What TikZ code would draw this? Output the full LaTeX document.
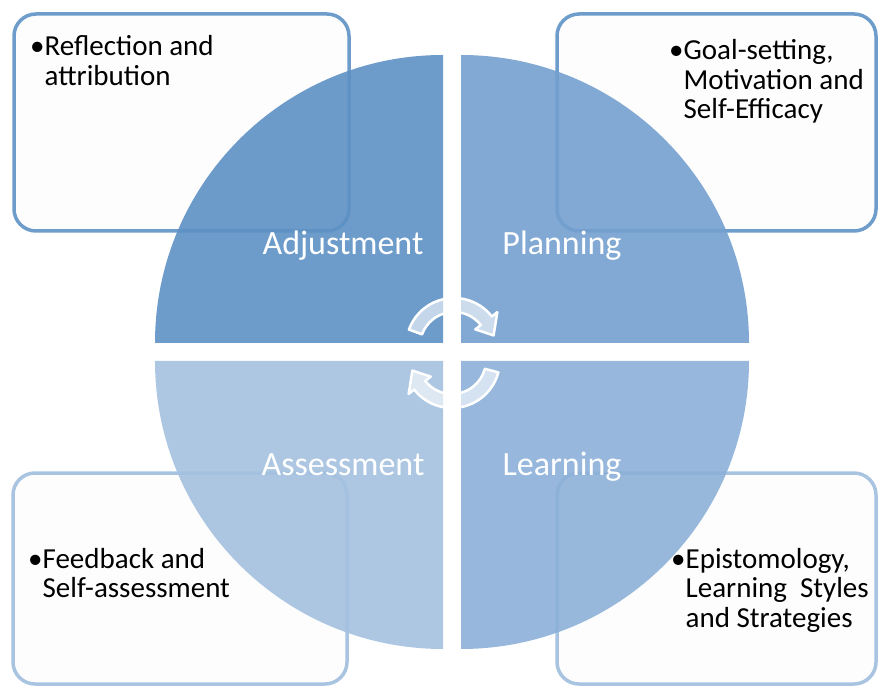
\documentclass[tikz,border=0pt]{standalone}
\usepackage{fontspec}
\setmainfont{Carlito}
\usetikzlibrary{calc}

\definecolor{adjfill}{HTML}{5D91C5}
\definecolor{planfill}{HTML}{74A0CF}
\definecolor{learnfill}{HTML}{8CB0D8}
\definecolor{assessfill}{HTML}{A4C1DF}
\definecolor{topline}{HTML}{6F9DCB}
\definecolor{botline}{HTML}{A8C4E1}
\definecolor{boxfill}{HTML}{FDFDFD}

\tikzset{
  infobox/.style={draw, rounded corners=22pt, line width=3.5pt, fill=boxfill, inner sep=0pt},
  quarter/.style={fill opacity=0.9},
  phase/.style={text=white, font=\fontsize{34}{40}\selectfont, inner sep=0pt, anchor=base},
  note/.style={font=\fontsize{29}{29.5}\selectfont, inner sep=0pt, anchor=base west},
  cyclearrow/.style={draw=white, line width=2.5pt, fill=white, fill opacity=0.6, line join=round},
}
\newcommand{\bulletlines}[1]{\begin{tabular}[t]{@{}l@{}l@{}}\textbullet&#1\end{tabular}}

\begin{document}
\begin{tikzpicture}[x=1pt, y=1pt]
  \useasboundingbox (0,0) rectangle (878,686);

  \node[infobox, draw=topline, minimum width=335pt, minimum height=217pt] (reflbox) at (181.5,563.5) {};
  \node[infobox, draw=topline, minimum width=319pt, minimum height=217pt] (goalbox) at (716.5,563.5) {};
  \node[infobox, draw=botline, minimum width=334pt, minimum height=211pt] (feedbox) at (180,107.5) {};
  \node[infobox, draw=botline, minimum width=319pt, minimum height=211pt] (episbox) at (716.5,107.5) {};

  \node[note] (refl) at (30,630) {\bulletlines{Reflection and\\&attribution}};
  \node[note] (goal) at (669,626) {\bulletlines{Goal-setting,\\&Motivation and\\&Self-Efficacy}};
  \node[note] (feed) at (28,118) {\bulletlines{Feedback and\\&Self-assessment}};
  \node[note] (epis) at (671,118) {\bulletlines{Epistomology,\\&Learning\ \ Styles\\&and Strategies}};

  \fill[adjfill, quarter] (443,343) -- (155,343) arc[start angle=180, end angle=90, radius=288pt] -- cycle;
  \fill[planfill, quarter] (461,343) -- (461,631) arc[start angle=90, end angle=0, radius=288pt] -- cycle;
  \fill[learnfill, quarter] (461,325) -- (749,325) arc[start angle=0, end angle=-90, radius=288pt] -- cycle;
  \fill[assessfill, quarter] (443,325) -- (443,37) arc[start angle=270, end angle=180, radius=288pt] -- cycle;

  \node[phase] (adjust) at (343,431) {Adjustment};
  \node[phase] (plan) at (562,431) {Planning};
  \node[phase] (assess) at (343,211) {Assessment};
  \node[phase] (learn) at (562,211) {Learning};

  \coordinate (topc) at (454,340);
  \coordinate (botc) at (452,326);
  \draw[cyclearrow] ($(topc)+(160:48pt)$) arc[start angle=160, end angle=38, radius=48pt]
    -- ($(topc)+(38:55pt)$) -- ($(topc)+(15:41pt)$) -- ($(topc)+(38:27pt)$)
    -- ($(topc)+(38:34pt)$) arc[start angle=38, end angle=160, radius=34pt] -- cycle;
  \draw[cyclearrow] ($(botc)+(-15:48pt)$) arc[start angle=-15, end angle=-142, radius=48pt]
    -- ($(botc)+(-142:55pt)$) -- ($(botc)+(-165:41pt)$) -- ($(botc)+(-142:27pt)$)
    -- ($(botc)+(-142:34pt)$) arc[start angle=-142, end angle=-15, radius=34pt] -- cycle;
\end{tikzpicture}
\end{document}
